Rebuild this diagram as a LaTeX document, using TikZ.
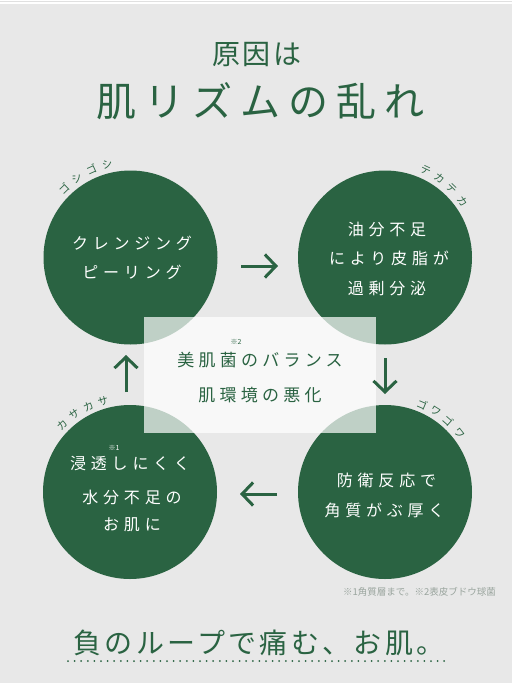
\documentclass[tikz,border=0pt]{standalone}
\usepackage{fontspec}
\setmainfont{Noto Sans CJK JP}
\usetikzlibrary{arrows.meta,calc}
\definecolor{bg}{HTML}{E8E8E8}
\definecolor{gr}{HTML}{2A6342}
\definecolor{note}{HTML}{9AA59E}
\tikzset{
  circ/.style={circle, fill=gr, minimum size=174pt, inner sep=0pt},
  ctext/.style={text=white, inner sep=0pt, font=\fontsize{16}{16}\selectfont\addfontfeature{LetterSpace=30}},
  btext/.style={text=gr, inner sep=0pt, font=\fontsize{17}{17}\selectfont\addfontfeature{LetterSpace=25}},
  arclab/.style={text=gr, inner sep=0pt, font=\fontsize{10.5}{10.5}\selectfont},
  notemark/.style={text=gr, inner sep=0pt, font=\fontsize{7}{7}\selectfont},
  cyc/.style={draw=gr, line width=3pt, -{Straight Barb[length=11pt,width=23pt]}},
  midbox/.style={fill=white, fill opacity=0.7, text opacity=1, minimum width=232pt, minimum height=116pt, inner sep=0pt}
}
\begin{document}
\begin{tikzpicture}[x=1pt,y=-1pt]
\useasboundingbox (0,0) rectangle (512,683);
\fill[bg] (0,0) rectangle (512,683);
\fill[white] (0,0) rectangle (512,4);
\draw[black!12, line width=0.8pt] (0,1.6) -- (512,1.6);

% title
\node[text=gr, inner sep=0pt, font=\fontsize{28}{28}\selectfont\addfontfeature{LetterSpace=10}] (t1) at (257,55) {原因は};
\node[text=gr, inner sep=0pt, font=\fontsize{40}{40}\selectfont\addfontfeature{LetterSpace=20}] (t2) at (260,101) {肌リズムの乱れ};

% circles
\node[circ] (tl) at (130.5,257.5) {};
\node[circ] (tr) at (385,257.5) {};
\node[circ] (bl) at (130,492) {};
\node[circ] (br) at (385,492) {};

% middle box
\node[midbox] (mid) at (260,375) {};
\node[btext] (m1) at (260,360) {美肌菌のバランス};
\node[btext] (m2) at (260,395) {肌環境の悪化};
\node[notemark] (m0) at (236,342) {※2};

% circle texts
\node[ctext] (a1) at (132,243) {クレンジング};
\node[ctext] (a2) at (132,272) {ピーリング};
\node[ctext] (b1) at (387,229) {油分不足};
\node[ctext] (b2) at (389,258) {により皮脂が};
\node[ctext] (b3) at (387,288) {過剰分泌};
\node[ctext] (c1) at (130,463) {浸透しにくく};
\node[ctext] (c2) at (132,497) {水分不足の};
\node[ctext] (c3) at (132,525) {お肌に};
\node[notemark, text=white] (c0) at (114,448) {※1};
\node[ctext] (d1) at (386.5,480) {防衛反応で};
\node[ctext] (d2) at (384.5,510) {角質がぶ厚く};

% arc labels
\foreach \ch/\a [count=\i] in {ゴ/134,シ/124,ゴ/114,シ/104}
  \node[arclab, rotate=\a-90] (p\i) at ($(tl)+(\a:96pt)$) {\ch};
\foreach \ch/\a [count=\i] in {テ/65,カ/55.5,テ/46,カ/36}
  \node[arclab, rotate=\a-90] (q\i) at ($(tr)+(\a:96pt)$) {\ch};
\foreach \ch/\a [count=\i] in {カ/135,サ/125.5,カ/116,サ/106.5}
  \node[arclab, rotate=\a-90] (r\i) at ($(bl)+(\a:95pt)$) {\ch};
\foreach \ch/\a [count=\i] in {ゴ/67,ワ/58,ゴ/48.5,ワ/38}
  \node[arclab, rotate=\a-90] (s\i) at ($(br)+(\a:95pt)$) {\ch};

% arrows
\coordinate (e1a) at (241,266); \coordinate (e1b) at (278,266);
\coordinate (e2a) at (385,358); \coordinate (e2b) at (385,394);
\coordinate (e3a) at (277,494); \coordinate (e3b) at (240,494);
\coordinate (e4a) at (126,392); \coordinate (e4b) at (126,355);
\draw[cyc] (e1a) -- (e1b);
\draw[cyc] (e2a) -- (e2b);
\draw[cyc] (e3a) -- (e3b);
\draw[cyc] (e4a) -- (e4b);

% footnote
\node[text=note, inner sep=0pt, anchor=east, font=\fontsize{9.5}{9.5}\selectfont] (fn) at (496,592) {※1角質層まで。※2表皮ブドウ球菌};

% bottom line
\node[text=gr, inner sep=0pt, font=\fontsize{28}{28}\selectfont\addfontfeature{LetterSpace=12}] (bt) at (259,643) {負のループで痛む、お肌。};
\coordinate (u1) at (68,661); \coordinate (u2) at (446,661);
\draw[gr, line width=2pt, line cap=round, dash pattern=on 0pt off 6.6pt] (u1) -- (u2);
\end{tikzpicture}
\end{document}
